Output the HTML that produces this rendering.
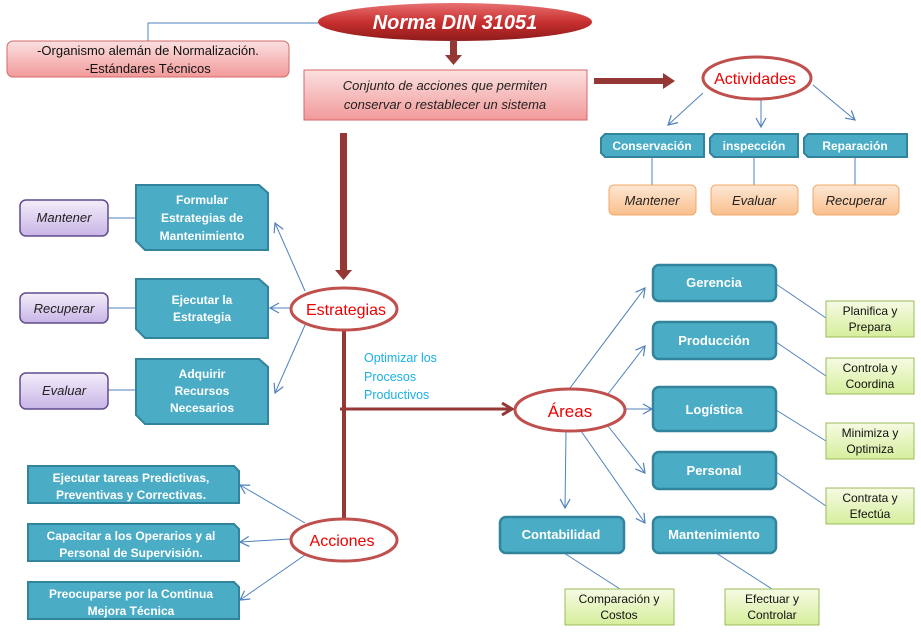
<!DOCTYPE html>
<html><head><meta charset="utf-8"><style>
html,body{margin:0;padding:0;background:#fff;}
svg{display:block;}
text{font-family:"Liberation Sans","DejaVu Sans",sans-serif;}
</style></head><body>
<svg width="921" height="633" viewBox="0 0 921 633" xmlns="http://www.w3.org/2000/svg">
<defs>
<linearGradient id="pink" x1="0" y1="0" x2="0" y2="1"><stop offset="0" stop-color="#fbe0e0"/><stop offset="1" stop-color="#f29a9a"/></linearGradient>
<linearGradient id="red" x1="0" y1="0" x2="0" y2="1"><stop offset="0" stop-color="#e87070"/><stop offset="0.5" stop-color="#c83030"/><stop offset="1" stop-color="#8e1a1a"/></linearGradient>
<linearGradient id="purp" x1="0" y1="0" x2="0" y2="1"><stop offset="0" stop-color="#f3eefa"/><stop offset="1" stop-color="#c8b4e6"/></linearGradient>
<linearGradient id="org" x1="0" y1="0" x2="0" y2="1"><stop offset="0" stop-color="#fde7d4"/><stop offset="1" stop-color="#f9bf8c"/></linearGradient>
<linearGradient id="grn" x1="0" y1="0" x2="0" y2="1"><stop offset="0" stop-color="#f6fbe4"/><stop offset="1" stop-color="#d6ee9c"/></linearGradient>
<marker id="ba" markerWidth="12" markerHeight="12" refX="10" refY="6" orient="auto" markerUnits="userSpaceOnUse"><path d="M1,1 L10,6 L1,11" fill="none" stroke="#4f81bd" stroke-width="1.2"/></marker>
<marker id="ra" markerWidth="14" markerHeight="14" refX="11" refY="7" orient="auto" markerUnits="userSpaceOnUse"><path d="M1,1 L11,7 L1,13" fill="none" stroke="#953735" stroke-width="3"/></marker>
</defs>

<!-- Top -->
<polyline points="318,23 148,23 148,41" fill="none" stroke="#4f81bd" stroke-width="1"/>
<rect x="7" y="41" width="282" height="36" rx="6" fill="url(#pink)" stroke="#d46a6a"/>
<text x="148" y="55" font-size="13" text-anchor="middle" fill="#111">-Organismo alemán de Normalización.</text>
<text x="148" y="73" font-size="13" text-anchor="middle" fill="#111">-Estándares Técnicos</text>

<ellipse cx="455" cy="22" rx="137" ry="19" fill="url(#red)"/>
<text x="455" y="29" font-size="20" font-weight="bold" font-style="italic" text-anchor="middle" fill="#fff">Norma DIN 31051</text>

<rect x="450" y="40" width="7" height="16" fill="#953735"/>
<path d="M445,55 L462,55 L453.5,65 Z" fill="#953735"/>

<rect x="304" y="70" width="283" height="50" fill="url(#pink)" stroke="#d46a6a"/>
<text x="445" y="90" font-size="13" font-style="italic" text-anchor="middle" fill="#222">Conjunto de acciones que permiten</text>
<text x="445" y="109" font-size="13" font-style="italic" text-anchor="middle" fill="#222">conservar o restablecer un sistema</text>

<rect x="594" y="78" width="70" height="6" fill="#953735"/>
<path d="M663,73 L675,81 L663,89 Z" fill="#953735"/>

<ellipse cx="757" cy="78" rx="54" ry="21" fill="#fff" stroke="#c0504d" stroke-width="3"/>
<text x="755" y="84" font-size="16" text-anchor="middle" fill="#e00">Actividades</text>
<line x1="703" y1="93" x2="668" y2="125" stroke="#4f81bd" marker-end="url(#ba)"/>
<line x1="761" y1="100" x2="761" y2="127" stroke="#4f81bd" marker-end="url(#ba)"/>
<line x1="813" y1="85" x2="855" y2="120" stroke="#4f81bd" marker-end="url(#ba)"/>

<g fill="#4bacc6" stroke="#31849b" stroke-width="2">
<path d="M605,134 L704,134 L704,157 L605,157 L601,153 L601,138 Z"/>
<path d="M714,134 L798,134 L798,157 L714,157 L710,153 L710,138 Z"/>
<path d="M808,134 L907,134 L907,157 L808,157 L804,153 L804,138 Z"/>
</g>
<g font-size="12" font-weight="bold" fill="#fff" text-anchor="middle">
<text x="652" y="150">Conservación</text><text x="754" y="150">inspección</text><text x="855" y="150">Reparación</text>
</g>
<g stroke="#4f81bd"><line x1="652" y1="157" x2="652" y2="185"/><line x1="754" y1="157" x2="754" y2="185"/><line x1="855" y1="157" x2="855" y2="185"/></g>
<g fill="url(#org)" stroke="#f0a868"><rect x="609" y="185" width="87" height="30" rx="5"/><rect x="711" y="185" width="87" height="30" rx="5"/><rect x="813" y="185" width="86" height="30" rx="5"/></g>
<g font-size="13" font-style="italic" fill="#222" text-anchor="middle">
<text x="652" y="205">Mantener</text><text x="754" y="205">Evaluar</text><text x="856" y="205">Recuperar</text>
</g>

<!-- Left -->
<rect x="340" y="133" width="7" height="138" fill="#953735"/>
<path d="M335,270 L352,270 L343.5,280 Z" fill="#953735"/>
<line x1="344" y1="331" x2="344" y2="519" stroke="#953735" stroke-width="4"/>
<line x1="340" y1="409" x2="512" y2="409" stroke="#953735" stroke-width="3" marker-end="url(#ra)"/>
<text x="364" y="362" font-size="12.5" fill="#1ab0e8">Optimizar los</text>
<text x="364" y="381" font-size="12.5" fill="#1ab0e8">Procesos</text>
<text x="364" y="399" font-size="12.5" fill="#1ab0e8">Productivos</text>

<line x1="305" y1="291" x2="275" y2="223" stroke="#4f81bd" marker-end="url(#ba)"/>
<line x1="290" y1="308" x2="270" y2="308" stroke="#4f81bd" marker-end="url(#ba)"/>
<line x1="305" y1="325" x2="275" y2="393" stroke="#4f81bd" marker-end="url(#ba)"/>
<ellipse cx="344" cy="309" rx="53" ry="21" fill="#fff" stroke="#c0504d" stroke-width="3"/>
<text x="346" y="315" font-size="16" text-anchor="middle" fill="#e00">Estrategias</text>

<g stroke="#4f81bd"><line x1="108" y1="218" x2="136" y2="218"/><line x1="108" y1="308" x2="136" y2="308"/><line x1="108" y1="390" x2="136" y2="390"/></g>
<g fill="#4bacc6" stroke="#31849b" stroke-width="2">
<path d="M136,185 L259,185 L268,193 L268,250 L145,250 L136,241 Z"/>
<path d="M136,279 L259,279 L268,287 L268,338 L145,338 L136,329 Z"/>
<path d="M136,359 L259,359 L268,367 L268,424 L145,424 L136,415 Z"/>
</g>
<g font-size="12" font-weight="bold" fill="#fff" text-anchor="middle">
<text x="202" y="204">Formular</text><text x="202" y="222">Estrategias de</text><text x="202" y="240">Mantenimiento</text>
<text x="202" y="304">Ejecutar la</text><text x="202" y="321">Estrategia</text>
<text x="202" y="378">Adquirir</text><text x="202" y="395">Recursos</text><text x="202" y="412">Necesarios</text>
</g>
<g fill="url(#purp)" stroke="#5f4b8b" stroke-width="1.5"><rect x="20" y="200" width="88" height="36" rx="6"/><rect x="20" y="293" width="88" height="30" rx="6"/><rect x="20" y="373" width="88" height="36" rx="6"/></g>
<g font-size="13" font-style="italic" fill="#222" text-anchor="middle">
<text x="64" y="222">Mantener</text><text x="64" y="313">Recuperar</text><text x="64" y="395">Evaluar</text>
</g>

<line x1="305" y1="523" x2="240" y2="485" stroke="#4f81bd" marker-end="url(#ba)"/>
<line x1="290" y1="539" x2="240" y2="542" stroke="#4f81bd" marker-end="url(#ba)"/>
<line x1="305" y1="555" x2="240" y2="600" stroke="#4f81bd" marker-end="url(#ba)"/>
<ellipse cx="344" cy="540" rx="53" ry="21" fill="#fff" stroke="#c0504d" stroke-width="3"/>
<text x="342" y="546" font-size="16" text-anchor="middle" fill="#e00">Acciones</text>
<g fill="#4bacc6" stroke="#31849b" stroke-width="2">
<path d="M28,466 L234,466 L239,471 L239,503 L28,503 Z"/>
<path d="M28,524 L234,524 L239,529 L239,561 L28,561 Z"/>
<path d="M28,582 L234,582 L239,587 L239,619 L28,619 Z"/>
</g>
<g font-size="12" font-weight="bold" fill="#fff" text-anchor="middle">
<text x="131" y="482">Ejecutar tareas Predictivas,</text><text x="131" y="499">Preventivas y Correctivas.</text>
<text x="131" y="540">Capacitar a los Operarios y al</text><text x="131" y="557">Personal de Supervisión.</text>
<text x="131" y="598">Preocuparse por la Continua</text><text x="131" y="615">Mejora Técnica</text>
</g>

<!-- Right areas -->
<g stroke="#4f81bd" fill="none">
<line x1="570" y1="388" x2="645" y2="288" marker-end="url(#ba)"/>
<line x1="608" y1="394" x2="645" y2="346" marker-end="url(#ba)"/>
<line x1="625" y1="409" x2="652" y2="409" marker-end="url(#ba)"/>
<line x1="608" y1="426" x2="645" y2="473" marker-end="url(#ba)"/>
<line x1="581" y1="431" x2="645" y2="523" marker-end="url(#ba)"/>
<line x1="566" y1="431" x2="565" y2="508" marker-end="url(#ba)"/>
<line x1="776" y1="284" x2="826" y2="318"/>
<line x1="776" y1="342" x2="826" y2="376"/>
<line x1="776" y1="410" x2="826" y2="441"/>
<line x1="776" y1="472" x2="826" y2="506"/>
<line x1="564" y1="553" x2="620" y2="589"/>
<line x1="716" y1="553" x2="772" y2="589"/>
</g>
<ellipse cx="570" cy="410" rx="55" ry="21" fill="#fff" stroke="#c0504d" stroke-width="3"/>
<text x="570" y="417" font-size="17" text-anchor="middle" fill="#e00">Áreas</text>
<g fill="#4bacc6" stroke="#31849b" stroke-width="2.5">
<rect x="653" y="265" width="123" height="36" rx="6"/>
<rect x="653" y="322" width="123" height="37" rx="6"/>
<rect x="653" y="387" width="123" height="44" rx="6"/>
<rect x="653" y="452" width="123" height="37" rx="6"/>
<rect x="653" y="517" width="123" height="36" rx="6"/>
<rect x="500" y="517" width="124" height="36" rx="6"/>
</g>
<g font-size="13" font-weight="bold" fill="#fff" text-anchor="middle">
<text x="714" y="287">Gerencia</text><text x="714" y="345">Producción</text><text x="714" y="414">Logística</text>
<text x="714" y="475">Personal</text><text x="714" y="539">Mantenimiento</text><text x="561" y="539">Contabilidad</text>
</g>
<g fill="url(#grn)" stroke="#9bbb59">
<rect x="826" y="301" width="88" height="36"/><rect x="826" y="358" width="88" height="36"/>
<rect x="826" y="423" width="88" height="36"/><rect x="826" y="488" width="88" height="36"/>
<rect x="565" y="589" width="109" height="36"/><rect x="725" y="589" width="94" height="36"/>
</g>
<g font-size="12" fill="#111" text-anchor="middle">
<text x="870" y="315">Planifica y</text><text x="870" y="331">Prepara</text>
<text x="870" y="372">Controla y</text><text x="870" y="388">Coordina</text>
<text x="870" y="437">Minimiza y</text><text x="870" y="453">Optimiza</text>
<text x="870" y="502">Contrata y</text><text x="870" y="518">Efectúa</text>
<text x="619" y="603">Comparación y</text><text x="619" y="619">Costos</text>
<text x="772" y="603">Efectuar y</text><text x="772" y="619">Controlar</text>
</g>
</svg>
</body></html>
